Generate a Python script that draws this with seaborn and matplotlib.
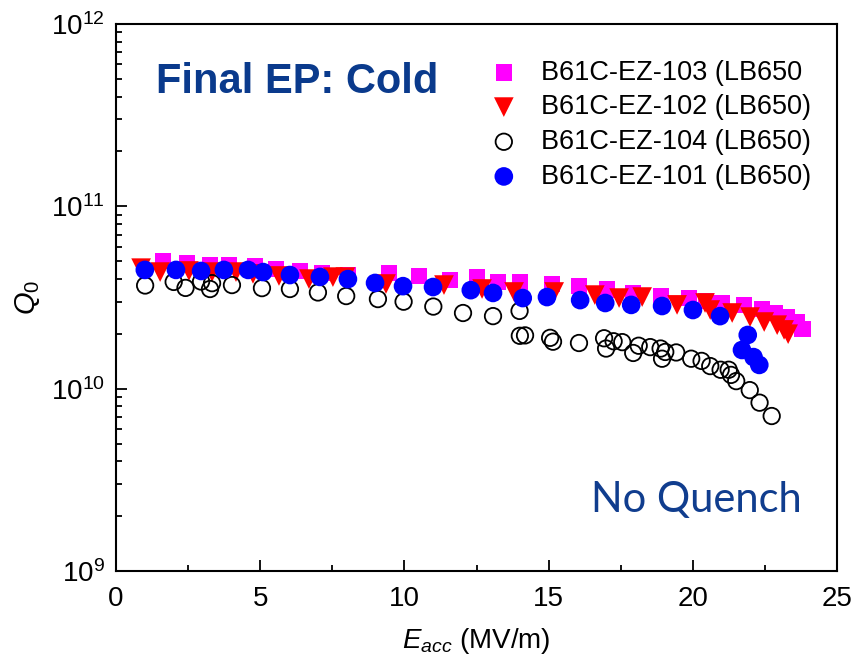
import matplotlib
matplotlib.use("Agg")
import matplotlib.pyplot as plt
from matplotlib.ticker import LogLocator, MultipleLocator, NullFormatter
import seaborn as sns
import pandas as pd

# Cavity test data: accelerating gradient (MV/m) and intrinsic quality factor
e_103 = [1.62, 2.45, 3.26, 3.92, 4.82, 5.54, 6.38, 7.14, 8.03, 9.45, 10.5, 11.58,
         12.5, 13.23, 14.0, 15.1, 16.05, 17.02, 17.93, 18.9, 19.85, 20.44, 21.0,
         21.78, 22.4, 22.85, 23.27, 23.6, 23.8]
q_103 = [5.04e10, 4.91e10, 4.78e10, 4.78e10, 4.73e10, 4.53e10, 4.42e10, 4.31e10,
         4.20e10, 4.31e10, 4.17e10, 3.96e10, 4.09e10, 3.85e10, 3.85e10, 3.77e10,
         3.65e10, 3.50e10, 3.35e10, 3.22e10, 3.14e10, 3.01e10, 2.95e10, 2.87e10,
         2.74e10, 2.61e10, 2.47e10, 2.32e10, 2.12e10]

e_102 = [0.87, 1.53, 2.53, 3.33, 4.16, 4.75, 5.65, 6.69, 7.52, 7.95, 9.36, 11.37,
         12.69, 13.8, 15.19, 16.6, 17.44, 18.24, 19.45, 20.42, 20.6, 21.36, 21.98,
         22.47, 22.92, 23.16, 23.3]
q_102 = [4.58e10, 4.36e10, 4.42e10, 4.36e10, 4.36e10, 4.26e10, 4.15e10, 3.99e10,
         4.09e10, 4.09e10, 3.75e10, 3.70e10, 3.52e10, 3.39e10, 3.39e10, 3.26e10,
         3.14e10, 3.18e10, 2.88e10, 2.95e10, 2.70e10, 2.60e10, 2.47e10, 2.32e10,
         2.23e10, 2.10e10, 1.99e10]

e_104 = [1.01, 2.0, 2.41, 2.95, 3.26, 3.33, 4.02, 5.06, 6.03, 7.0, 7.98, 9.08,
         9.97, 11.0, 12.03, 13.07, 13.99, 14.0, 14.18, 15.05, 15.15, 16.05, 16.92,
         16.99, 17.25, 17.55, 17.93, 18.12, 18.52, 18.88, 18.93, 19.04, 19.42,
         19.94, 20.3, 20.6, 20.96, 21.24, 21.32, 21.5, 21.97, 22.31, 22.73]
q_104 = [3.68e10, 3.85e10, 3.57e10, 3.87e10, 3.52e10, 3.79e10, 3.70e10, 3.56e10,
         3.52e10, 3.37e10, 3.22e10, 3.10e10, 3.00e10, 2.82e10, 2.60e10, 2.50e10,
         2.67e10, 1.95e10, 1.96e10, 1.90e10, 1.81e10, 1.78e10, 1.89e10, 1.66e10,
         1.82e10, 1.80e10, 1.57e10, 1.72e10, 1.69e10, 1.66e10, 1.46e10, 1.59e10,
         1.58e10, 1.46e10, 1.42e10, 1.33e10, 1.27e10, 1.27e10, 1.19e10, 1.10e10,
         9.82e9, 8.38e9, 7.08e9]

e_101 = [1.0, 2.08, 2.95, 3.74, 4.58, 5.1, 6.03, 7.07, 8.04, 8.98, 9.95, 10.99,
         12.3, 13.07, 14.1, 14.94, 16.09, 16.96, 17.86, 18.93, 20.0, 20.94, 21.9,
         21.7, 22.1, 22.3]
q_101 = [4.48e10, 4.48e10, 4.42e10, 4.48e10, 4.48e10, 4.36e10, 4.20e10, 4.10e10,
         3.99e10, 3.80e10, 3.65e10, 3.61e10, 3.47e10, 3.35e10, 3.14e10, 3.18e10,
         3.06e10, 2.95e10, 2.88e10, 2.84e10, 2.70e10, 2.50e10, 1.97e10, 1.63e10,
         1.49e10, 1.35e10]

labels = ["B61C-EZ-103 (LB650", "B61C-EZ-102 (LB650)",
          "B61C-EZ-104 (LB650)", "B61C-EZ-101 (LB650)"]
x_ticks = [0, 5, 10, 15, 20, 25]

sns.set_style("ticks")
plt.rcParams["font.family"] = ["Liberation Sans", "DejaVu Sans"]
plt.rcParams["mathtext.fontset"] = "custom"
plt.rcParams["mathtext.rm"] = "Liberation Sans"
plt.rcParams["mathtext.it"] = "Liberation Sans:italic"
plt.rcParams["mathtext.default"] = "it"
plt.rcParams["text.color"] = "black"
plt.rcParams["axes.labelcolor"] = "black"
plt.rcParams["xtick.color"] = "black"
plt.rcParams["ytick.color"] = "black"

fig = plt.figure(figsize=(8.56, 6.59), dpi=100)
ax = fig.add_axes([0.1355, 0.1335, 0.8425, 0.8301])

series = [
    (e_103, q_103, labels[0], dict(marker="s", s=135, color="#ff00ff", edgecolor="none")),
    (e_102, q_102, labels[1], dict(marker="v", s=200, color="#ff0000", edgecolor="none")),
    (e_104, q_104, labels[2], dict(marker="o", s=140, facecolor="none", edgecolor="black", linewidth=1.3)),
    (e_101, q_101, labels[3], dict(marker="o", s=180, color="#0000ff", edgecolor="none")),
]
for i, (ex, qx, lab, style) in enumerate(series):
    df = pd.DataFrame({"E": ex, "Q": qx})
    sns.scatterplot(data=df, x="E", y="Q", ax=ax, label=lab, zorder=3 + i, **style)

ax.set_yscale("log")
ax.set_xlim(0, 25)
ax.set_ylim(1e9, 1e12)
ax.set_xticks(x_ticks)
ax.xaxis.set_minor_locator(MultipleLocator(2.5))
ax.yaxis.set_major_locator(LogLocator(base=10, numticks=10))
ax.yaxis.set_minor_locator(LogLocator(base=10, subs=range(2, 10), numticks=20))
ax.yaxis.set_minor_formatter(NullFormatter())

for sp in ax.spines.values():
    sp.set_linewidth(1.5)
    sp.set_color("black")
ax.tick_params(which="both", direction="in", top=False, right=False,
               color="black", labelcolor="black", width=1.3)
ax.tick_params(which="major", length=8)
ax.tick_params(which="minor", length=4.5)
ax.tick_params(axis="x", which="major", labelsize=20, pad=11)
ax.tick_params(axis="y", which="major", labelsize=20, pad=8)

ax.set_xlabel(r"$E_{acc}$ (MV/m)", fontsize=20, labelpad=10, color="black")
ax.set_ylabel(r"$Q_{0}$", fontsize=21, labelpad=6, color="black")

leg = ax.legend(loc="upper left", bbox_to_anchor=(0.519, 0.935), frameon=False,
                fontsize=19.5, handlelength=1.0, handletextpad=0.86,
                labelspacing=0.32, borderpad=0, borderaxespad=0)
for t in leg.get_texts():
    t.set_color("black")

ax.text(0.056, 0.873, "Final EP: Cold", transform=ax.transAxes, fontsize=30,
        fontweight="bold", color="#0a3a8c", ha="left", va="baseline")
ax.text(0.658, 0.108, "No Quench", transform=ax.transAxes, fontsize=30,
        family="Lato", color="#103d8e", ha="left", va="baseline")

fig.savefig("out.png", dpi=100)
